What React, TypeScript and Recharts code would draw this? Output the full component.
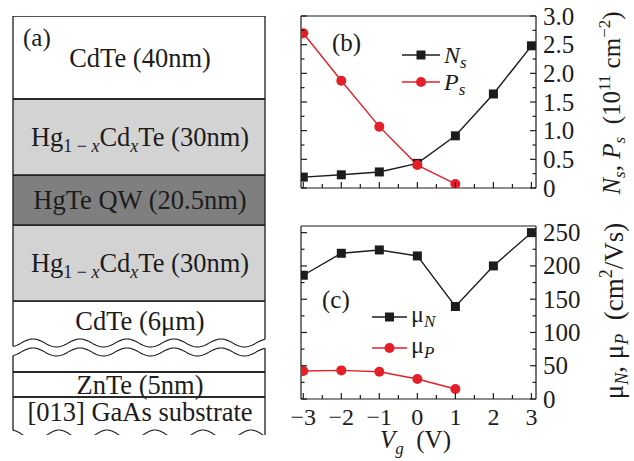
import React from "react";
import { BarChart, Bar, LineChart, Line, XAxis, YAxis, Legend, Label } from "recharts";

const FONT = "'Liberation Serif', 'Times New Roman', Times, serif";
const INK = "#1c1c1c";
const RED = "#e51f27";

// (a) sample structure, top to bottom
const layerKeys = ["cap", "barrierTop", "well", "barrierBottom", "buffer", "gap", "bufferLow", "znte", "substrate"];
const layerLabels = [
  "CdTe (40nm)",
  "Hg_{1 − x}Cd_{x}Te (30nm)",
  "HgTe QW (20.5nm)",
  "Hg_{1 − x}Cd_{x}Te (30nm)",
  "CdTe (6μm)",
  "",
  "",
  "ZnTe (5nm)",
  "[013] GaAs substrate",
];
// drawn thickness of each layer (not to scale)
const layerThickness = [83, 76, 50, 76, 42, 9, 20, 25, 38];

// (b), (c) vs gate voltage
const gateVoltage = [-3, -2, -1, 0, 1, 2, 3];
const electronDensity = [0.19, 0.23, 0.28, 0.43, 0.91, 1.64, 2.48];
const holeDensity = [2.7, 1.87, 1.07, 0.4, 0.07, null, null];
const electronMobility = [186, 219, 224, 215, 139, 200, 250];
const holeMobility = [42, 43, 41, 30, 15, null, null];

const vgTicks = [-3, -2.5, -2, -1.5, -1, -0.5, 0, 0.5, 1, 1.5, 2, 2.5, 3];
const densityTicks = [0, 0.25, 0.5, 0.75, 1, 1.25, 1.5, 1.75, 2, 2.25, 2.5, 2.75, 3];
const mobilityTicks = [0, 25, 50, 75, 100, 125, 150, 175, 200, 225, 250];

const VG_DOMAIN: [number, number] = [-3.06, 3.12];

// ---------- layer diagram ----------
type Wave = { amp: number; period: number; phase: number };
type Edge = "line" | "none" | Wave;
const BREAK_WAVE: Wave = { amp: -4, period: 47, phase: 20 };
const BOTTOM_WAVE: Wave = { amp: 5, period: 48, phase: 22 };

const LAYER_FILL: Record<string, string> = { barrierTop: "#d3d3d3", well: "#7f7f7f", barrierBottom: "#d3d3d3" };
const LAYER_EDGES: Record<string, { top: Edge; bottom: Edge; sides: boolean }> = {
  buffer: { top: "line", bottom: BREAK_WAVE, sides: true },
  gap: { top: "none", bottom: "none", sides: false },
  bufferLow: { top: BREAK_WAVE, bottom: "line", sides: true },
  substrate: { top: "line", bottom: BOTTOM_WAVE, sides: true },
};
const TEXT_SHIFT: Record<string, number> = { substrate: -4, buffer: -1 };

const waveY = (w: Wave, x: number, x0: number, yc: number) =>
  yc + w.amp * Math.cos((2 * Math.PI * (x - x0 - w.phase)) / w.period);

function wavePath(w: Wave, x0: number, x1: number, yc: number) {
  let d = "";
  for (let x = x0; x <= x1 + 0.01; x += 1) {
    d += (d ? " L" : "M") + x.toFixed(1) + " " + waveY(w, x, x0, yc).toFixed(2);
  }
  return d;
}

function LayerText({ label, cx, baseline }: { label: string; cx: number; baseline: number }) {
  const parts = label.split(/(_\{[^}]*\})/).filter(Boolean);
  let lowered = false;
  return (
    <text x={cx} y={baseline} textAnchor="middle" fontFamily={FONT} fontSize={26.5} fill={INK} style={{ whiteSpace: "pre" }}>
      {parts.map((p, k) => {
        if (p.startsWith("_{")) {
          const sub = p.slice(2, -1);
          const pieces = sub.split("x");
          const dy = lowered ? 0 : 6;
          lowered = true;
          return (
            <tspan key={k} fontSize={18} dy={dy}>
              {pieces.map((s, j) => (
                <React.Fragment key={j}>
                  {s}
                  {j < pieces.length - 1 && <tspan fontStyle="italic">x</tspan>}
                </React.Fragment>
              ))}
            </tspan>
          );
        }
        const dy = lowered ? -6 : 0;
        lowered = false;
        return (
          <tspan key={k} dy={dy}>
            {p}
          </tspan>
        );
      })}
    </text>
  );
}

function LayerShape(props: any) {
  const { x, y, width, height, layerIndex } = props;
  const key = layerKeys[layerIndex];
  const top = Math.min(y, y + height);
  const bottom = top + Math.abs(height);
  const left = x;
  const right = x + width;
  const edge = LAYER_EDGES[key] ?? { top: "line", bottom: "line", sides: true };
  const fill = LAYER_FILL[key];
  const edgeY = (e: Edge, xx: number, yc: number) => (typeof e === "object" ? waveY(e, xx, left, yc) : yc);
  const stroke = { stroke: INK, strokeWidth: 1.3, fill: "none" };
  const label = layerLabels[layerIndex];
  return (
    <g>
      {fill && <rect x={left} y={top} width={width} height={bottom - top} fill={fill} />}
      {edge.top === "line" && <line x1={left} x2={right} y1={top} y2={top} {...stroke} />}
      {typeof edge.top === "object" && <path d={wavePath(edge.top, left, right, top)} {...stroke} strokeWidth={1.1} />}
      {edge.bottom === "line" && <line x1={left} x2={right} y1={bottom} y2={bottom} {...stroke} />}
      {typeof edge.bottom === "object" && <path d={wavePath(edge.bottom, left, right, bottom)} {...stroke} strokeWidth={1.1} />}
      {edge.sides && (
        <>
          <line x1={left} x2={left} y1={edgeY(edge.top, left, top)} y2={edgeY(edge.bottom, left, bottom)} {...stroke} />
          <line x1={right} x2={right} y1={edgeY(edge.top, right, top)} y2={edgeY(edge.bottom, right, bottom)} {...stroke} />
        </>
      )}
      {label && (
        <LayerText label={label} cx={(left + right) / 2 + 1} baseline={(top + bottom) / 2 + 9 + (TEXT_SHIFT[key] ?? 0)} />
      )}
    </g>
  );
}

// ---------- axes ----------
const isMultiple = (v: number, step: number) => Math.abs(v / step - Math.round(v / step)) < 1e-6;
const axisLine = { stroke: INK, strokeWidth: 1.2 };
const fmtVg = (v: number) => (v < 0 ? `−${-v}` : `${v}`);
const fmtDensity = (v: number) => (v === 0 ? "0" : v.toFixed(1));
const fmtMobility = (v: number) => `${v}`;

const makeBottomTick = (withLabels: boolean) => (p: any) => {
  const v = p.payload.value;
  const major = isMultiple(v, 1);
  return (
    <g key={`b${v}`}>
      <line x1={p.x} x2={p.x} y1={p.y} y2={p.y - (major ? 6 : 4)} stroke={INK} strokeWidth={1.2} />
      {withLabels && major && (
        <text x={p.x} y={p.y + 26} textAnchor="middle" fontSize={24} fontFamily={FONT} fill={INK}>
          {fmtVg(v)}
        </text>
      )}
    </g>
  );
};

const makeRightTick = (step: number, fmt: (v: number) => string) => (p: any) => {
  const v = p.payload.value;
  const major = isMultiple(v, step);
  return (
    <g key={`r${v}`}>
      <line x1={p.x} x2={p.x - (major ? 6 : 3.5)} y1={p.y} y2={p.y} stroke={INK} strokeWidth={1.2} />
      {major && (
        <text x={p.x + 7} y={p.y + 8.5} textAnchor="start" fontSize={25} fontFamily={FONT} fill={INK}>
          {fmt(v)}
        </text>
      )}
    </g>
  );
};

const makeLeftTick = (step: number) => (p: any) => {
  const v = p.payload.value;
  const major = isMultiple(v, step);
  return <line key={`l${v}`} x1={p.x} x2={p.x + (major ? 6 : 3.5)} y1={p.y} y2={p.y} stroke={INK} strokeWidth={1.2} />;
};

// ---------- markers & legend ----------
const squareDot = (color: string) => (p: any) => {
  if (p.cx == null || p.cy == null || p.value == null) return <g key={`s${p.index}`} />;
  return <rect key={`s${p.index}`} x={p.cx - 4.5} y={p.cy - 4.5} width={9} height={9} fill={color} />;
};
const circleDot = (color: string) => (p: any) => {
  if (p.cx == null || p.cy == null || p.value == null) return <g key={`c${p.index}`} />;
  return <circle key={`c${p.index}`} cx={p.cx} cy={p.cy} r={5} fill={color} />;
};

const LEGEND_TEXT: Record<string, { main: string; sub: string; italicMain: boolean }> = {
  ns: { main: "N", sub: "s", italicMain: true },
  ps: { main: "P", sub: "s", italicMain: true },
  muN: { main: "μ", sub: "N", italicMain: false },
  muP: { main: "μ", sub: "P", italicMain: false },
};

const makeLegend = (rowY: number[], lineLen: number, textShift: number) => ({ payload }: any) => (
  <svg width={120} height={70} style={{ overflow: "visible" }}>
    {(payload ?? []).map((e: any, i: number) => {
      const t = LEGEND_TEXT[e.dataKey];
      const y = rowY[i];
      const mid = 2 + lineLen / 2;
      const round = e.dataKey === "ps" || e.dataKey === "muP";
      return (
        <g key={e.dataKey}>
          <line x1={2} x2={2 + lineLen} y1={y} y2={y} stroke={e.color} strokeWidth={1.4} />
          {round ? (
            <circle cx={mid} cy={y} r={5} fill={e.color} />
          ) : (
            <rect x={mid - 4.5} y={y - 4.5} width={9} height={9} fill={e.color} />
          )}
          <text x={lineLen + 6} y={y + textShift} fontFamily={FONT} fontSize={24} fill={INK}>
            <tspan fontStyle={t.italicMain ? "italic" : "normal"}>{t.main}</tspan>
            <tspan fontStyle="italic" fontSize={17} dy={5}>
              {t.sub}
            </tspan>
          </text>
        </g>
      );
    })}
  </svg>
);

// ---------- axis titles ----------
const DensityTitle = () => (
  <text
    transform="rotate(-90 330 103)"
    x={330}
    y={103}
    textAnchor="middle"
    fontFamily={FONT}
    fontSize={25}
    fill={INK}
    style={{ whiteSpace: "pre" }}
  >
    <tspan fontStyle="italic">N</tspan>
    <tspan fontStyle="italic" fontSize={17} dy={5}>s</tspan>
    <tspan dy={-5}>, </tspan>
    <tspan fontStyle="italic">P</tspan>
    <tspan fontStyle="italic" fontSize={17} dy={5}>s</tspan>
    <tspan dy={-5}>{"  (10"}</tspan>
    <tspan fontSize={17} dy={-10}>11</tspan>
    <tspan dy={10}> cm</tspan>
    <tspan fontSize={17} dy={-10}>−2</tspan>
    <tspan dy={10}>)</tspan>
  </text>
);

const MobilityTitle = () => (
  <text
    transform="rotate(-90 333 101)"
    x={333}
    y={101}
    textAnchor="middle"
    fontFamily={FONT}
    fontSize={27}
    fill={INK}
    style={{ whiteSpace: "pre" }}
  >
    <tspan>μ</tspan>
    <tspan fontStyle="italic" fontSize={18} dy={5}>N</tspan>
    <tspan dy={-5}>, μ</tspan>
    <tspan fontStyle="italic" fontSize={18} dy={5}>P</tspan>
    <tspan dy={-5}>{"  (cm"}</tspan>
    <tspan fontSize={18} dy={-11}>2</tspan>
    <tspan dy={11}>/Vs)</tspan>
  </text>
);

const GateTitle = () => (
  <text x={90} y={238} fontFamily={FONT} fontSize={25} fill={INK} style={{ whiteSpace: "pre" }}>
    <tspan fontStyle="italic">V</tspan>
    <tspan fontStyle="italic" fontSize={17} dy={6}>g</tspan>
    <tspan dy={-6}>{"  (V)"}</tspan>
  </text>
);

export default function App() {
  const rows = gateVoltage.map((v, i) => ({
    vg: v,
    ns: electronDensity[i],
    ps: holeDensity[i],
    muN: electronMobility[i],
    muP: holeMobility[i],
  }));
  const stackRow = [{ name: "stack", ...Object.fromEntries(layerKeys.map((k, i) => [k, layerThickness[i]])) }];
  const total = layerThickness.reduce((a, b) => a + b, 0);

  return (
    <div style={{ position: "absolute", left: 0, top: 0, width: 634, height: 461, background: "#fff", fontFamily: FONT }}>
      <div style={{ position: "absolute", left: 0, top: 0 }}>
        <BarChart
          width={280}
          height={461}
          data={stackRow}
          margin={{ top: 16, right: 15, left: 13, bottom: 461 - 16 - total }}
          barCategoryGap={0}
          barGap={0}
        >
          <XAxis dataKey="name" hide />
          <YAxis hide type="number" domain={[0, total]} allowDataOverflow />
          {[...layerKeys].reverse().map((k) => {
            const i = layerKeys.indexOf(k);
            return (
              <Bar
                key={k}
                dataKey={k}
                stackId="layers"
                isAnimationActive={false}
                shape={(p: any) => <LayerShape {...p} layerIndex={i} />}
              />
            );
          })}
          <text x={23} y={46} fontFamily={FONT} fontSize={25} fill={INK}>
            (a)
          </text>
        </BarChart>
      </div>

      <div style={{ position: "absolute", left: 290, top: 0 }}>
        <LineChart width={344} height={215} data={rows} margin={{ top: 15, right: 0, left: 10, bottom: 0 }}>
          <XAxis
            xAxisId="b"
            dataKey="vg"
            type="number"
            domain={VG_DOMAIN}
            allowDataOverflow
            ticks={vgTicks}
            interval={0}
            tickSize={0}
            tickMargin={0}
            tickLine={false}
            tick={makeBottomTick(false)}
            axisLine={axisLine}
            height={27}
          />
          <XAxis xAxisId="t" orientation="top" type="number" domain={VG_DOMAIN} allowDataOverflow tick={false} tickLine={false} axisLine={axisLine} height={1} />
          <YAxis
            yAxisId="l"
            orientation="left"
            type="number"
            domain={[0, 3]}
            allowDataOverflow
            ticks={densityTicks}
            interval={0}
            tickSize={0}
            tickMargin={0}
            tickLine={false}
            tick={makeLeftTick(0.5)}
            axisLine={axisLine}
            width={1}
          />
          <YAxis
            yAxisId="r"
            orientation="right"
            type="number"
            domain={[0, 3]}
            allowDataOverflow
            ticks={densityTicks}
            interval={0}
            tickSize={0}
            tickMargin={0}
            tickLine={false}
            tick={makeRightTick(0.5, fmtDensity)}
            axisLine={axisLine}
            width={98}
          >
            <Label content={() => <DensityTitle />} />
          </YAxis>
          <Line xAxisId="b" yAxisId="r" dataKey="ns" name="Ns" stroke={INK} strokeWidth={1.4} dot={squareDot(INK)} isAnimationActive={false} />
          <Line xAxisId="b" yAxisId="r" dataKey="ps" name="Ps" stroke={RED} strokeWidth={1.4} dot={circleDot(RED)} isAnimationActive={false} />
          <Legend
            layout="vertical"
            align="center"
            verticalAlign="middle"
            wrapperStyle={{ left: 110, top: 38, width: 120, height: 70 }}
            content={makeLegend([17, 44], 38, 8)}
          />
          <text x={42} y={50.5} fontFamily={FONT} fontSize={25} fill={INK}>
            (b)
          </text>
        </LineChart>
      </div>

      <div style={{ position: "absolute", left: 290, top: 210 }}>
        <LineChart width={344} height={251} data={rows} margin={{ top: 15, right: 0, left: 10, bottom: 0 }}>
          <XAxis
            xAxisId="b"
            dataKey="vg"
            type="number"
            domain={VG_DOMAIN}
            allowDataOverflow
            ticks={vgTicks}
            interval={0}
            tickSize={0}
            tickMargin={0}
            tickLine={false}
            tick={makeBottomTick(true)}
            axisLine={axisLine}
            height={62}
          >
            <Label content={() => <GateTitle />} />
          </XAxis>
          <XAxis xAxisId="t" orientation="top" type="number" domain={VG_DOMAIN} allowDataOverflow tick={false} tickLine={false} axisLine={axisLine} height={1} />
          <YAxis
            yAxisId="l"
            orientation="left"
            type="number"
            domain={[0, 260]}
            allowDataOverflow
            ticks={mobilityTicks}
            interval={0}
            tickSize={0}
            tickMargin={0}
            tickLine={false}
            tick={makeLeftTick(50)}
            axisLine={axisLine}
            width={1}
          />
          <YAxis
            yAxisId="r"
            orientation="right"
            type="number"
            domain={[0, 260]}
            allowDataOverflow
            ticks={mobilityTicks}
            interval={0}
            tickSize={0}
            tickMargin={0}
            tickLine={false}
            tick={makeRightTick(50, fmtMobility)}
            axisLine={axisLine}
            width={98}
          >
            <Label content={() => <MobilityTitle />} />
          </YAxis>
          <Line xAxisId="b" yAxisId="r" dataKey="muN" name="μN" stroke={INK} strokeWidth={1.4} dot={squareDot(INK)} isAnimationActive={false} />
          <Line xAxisId="b" yAxisId="r" dataKey="muP" name="μP" stroke={RED} strokeWidth={1.4} dot={circleDot(RED)} isAnimationActive={false} />
          <Legend
            layout="vertical"
            align="center"
            verticalAlign="middle"
            wrapperStyle={{ left: 80, top: 90, width: 120, height: 70 }}
            content={makeLegend([17, 48], 35, 5)}
          />
          <text x={32} y={98} fontFamily={FONT} fontSize={25} fill={INK}>
            (c)
          </text>
        </LineChart>
      </div>
    </div>
  );
}
